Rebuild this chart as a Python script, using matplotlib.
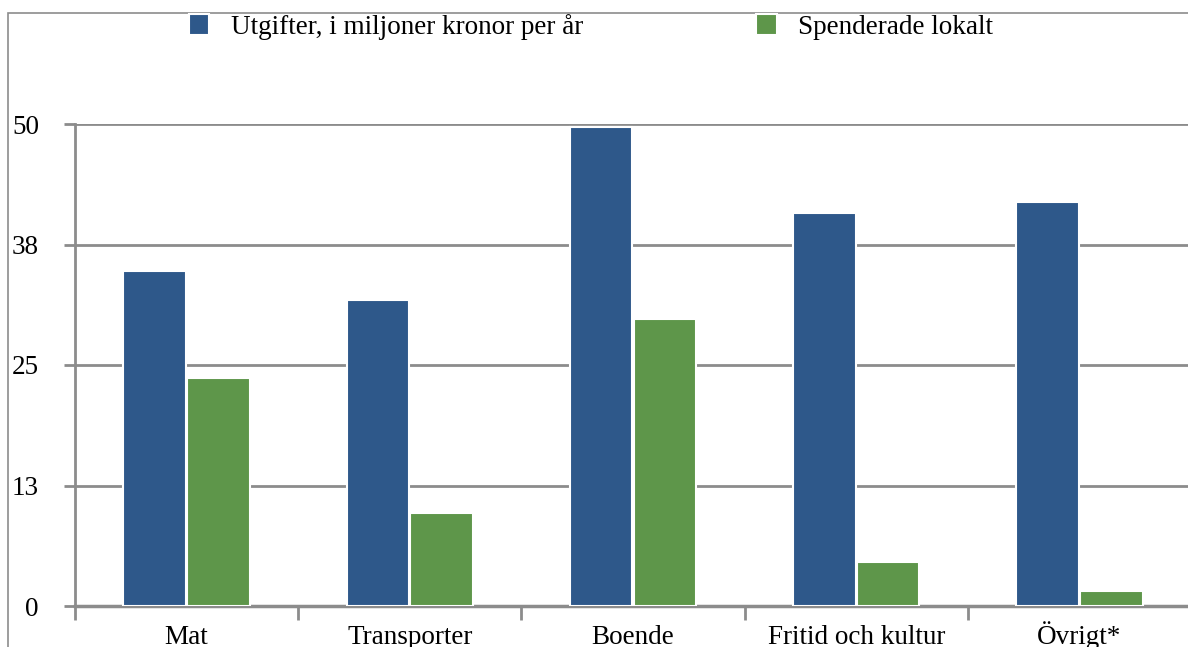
import matplotlib.pyplot as plt
from matplotlib.patches import Rectangle
import numpy as np

categories = ['Mat', 'Transporter', 'Boende', 'Fritid och kultur', 'Övrigt*']
utgifter = [34.8, 31.7, 49.7, 40.8, 41.9]
lokalt = [23.7, 9.6, 29.8, 4.6, 1.55]
series_names = ['Utgifter, i miljoner kronor per år', 'Spenderade lokalt']
y_ticks = [0, 12.5, 25, 37.5, 50]
y_tick_labels = ['0', '13', '25', '38', '50']

blue = '#2E588A'
green = '#5E964A'
grey = '#8C8C8C'

plt.rcParams['font.family'] = ['Liberation Serif', 'DejaVu Serif']
fs = 19.5

fig = plt.figure(figsize=(11.88, 6.47), dpi=100)
ax = fig.add_axes([75 / 1188, 1 - 606 / 647, 1116 / 1188, (606 - 124) / 647])

# outer frame (only top and left edges fall inside the picture)
fig.patches.append(Rectangle((8 / 1188, -0.1), 1.5, 1.1 - 12.5 / 647,
                             transform=fig.transFigure, fill=False,
                             edgecolor=grey, linewidth=1.2))

x = np.arange(len(categories))
w = 0.28
ax.bar(x - 0.143, utgifter, w, color=blue, edgecolor='white', linewidth=1.5,
       zorder=3, label=series_names[0])
ax.bar(x + 0.143, lokalt, w, color=green, edgecolor='white', linewidth=1.5,
       zorder=3, label=series_names[1])

ax.set_xlim(-0.5, len(categories) - 0.5)
ax.set_ylim(0, 50)
ax.set_yticks(y_ticks)
ax.set_yticklabels(y_tick_labels, fontsize=fs)
ax.yaxis.grid(True, color=grey, linewidth=2, zorder=0)

# category boundary ticks and centred labels
ax.set_xticks(np.arange(len(categories) + 1) - 0.5)
ax.set_xticklabels([])
ax.set_xticks(x, minor=True)
ax.set_xticklabels(categories, minor=True, fontsize=fs, va='baseline')
ax.tick_params(axis='x', which='minor', length=0, pad=27)
ax.tick_params(axis='x', which='major', length=10, width=2, color=grey)
ax.tick_params(axis='y', length=8, width=2, color=grey, pad=18)

for s in ['top', 'right']:
    ax.spines[s].set_visible(False)
ax.spines['left'].set_color(grey)
ax.spines['left'].set_linewidth(2)
ax.spines['bottom'].set_color(grey)
ax.spines['bottom'].set_linewidth(2.5)
ax.spines['bottom'].set_zorder(2)

fig.legend(loc='center', bbox_to_anchor=(591 / 1188, 1 - 27 / 647), ncol=2,
           frameon=False, fontsize=fs, handlelength=0.75, handleheight=0.8,
           handletextpad=0.8, columnspacing=6.4)

fig.savefig('out.png', dpi=100)
